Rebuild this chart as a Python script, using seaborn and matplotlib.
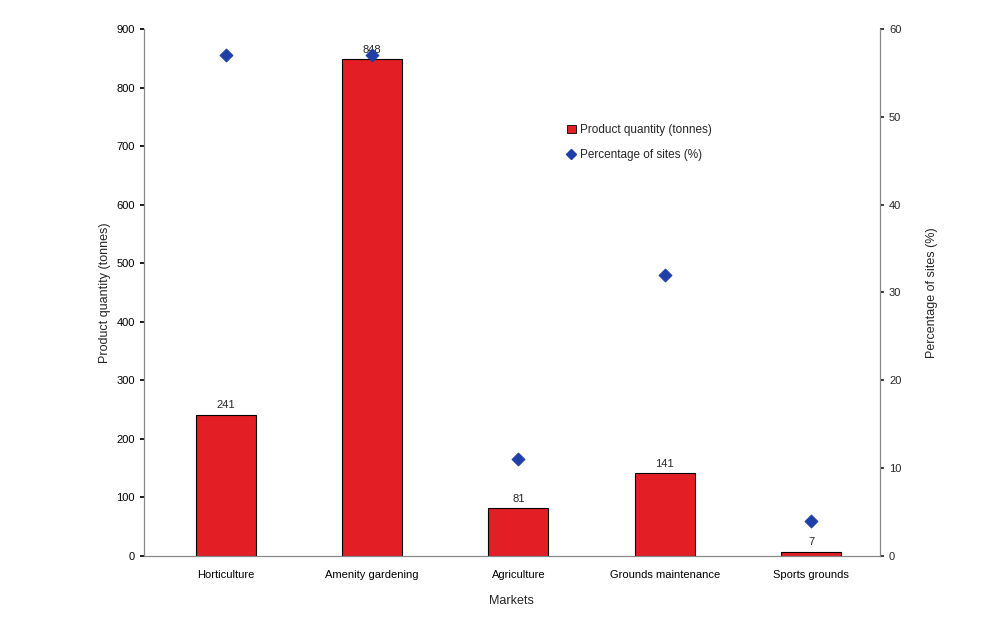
import matplotlib
matplotlib.use("Agg")
import matplotlib.pyplot as plt
import seaborn as sns
import pandas as pd
from matplotlib.lines import Line2D
from matplotlib.patches import Patch

# ── Data ───────────────────────────────────────────────────────────────────
markets   = ["Horticulture", "Amenity gardening", "Agriculture",
             "Grounds maintenance", "Sports grounds"]
quantity  = [241, 848, 81, 141, 7]        # tonnes
pct_sites = [57, 57, 11, 32, 4]           # %

BAR_RED  = "#e31e24"
DOT_BLUE = "#1f3fa8"

sns.set_theme(style="white")
plt.rcParams["font.family"] = ["Liberation Sans", "DejaVu Sans"]

df = pd.DataFrame({"Markets": markets, "qty": quantity, "pct": pct_sites})

fig, ax = plt.subplots(figsize=(9.91, 6.31), dpi=100)
fig.subplots_adjust(left=0.145, right=0.888, top=0.954, bottom=0.119)

sns.barplot(data=df, x="Markets", y="qty", color=BAR_RED, width=0.41,
            edgecolor="black", linewidth=0.8, saturation=1, ax=ax)
for i, v in enumerate(quantity):
    ax.text(i, v + 8, str(v), ha="center", va="bottom", fontsize=8)

ax.set_xlim(-0.56, 4.47)
ax.set_ylim(0, 900)
ax.set_yticks(range(0, 901, 100))
ax.set_ylabel("Product quantity (tonnes)", fontsize=9)
ax.set_xlabel("Markets", fontsize=9, labelpad=11)
ax.tick_params(axis="both", labelsize=8, length=3, direction="out",
               left=True, bottom=False, colors="black")
ax.tick_params(axis="x", pad=7)

ax2 = ax.twinx()
sns.scatterplot(data=df, x="Markets", y="pct", marker="D", s=45,
                color=DOT_BLUE, edgecolor=DOT_BLUE, ax=ax2, zorder=5)
ax2.set_xlim(-0.56, 4.47)
ax2.set_ylim(0, 60)
ax2.set_yticks(range(0, 61, 10))
ax2.set_ylabel("Percentage of sites (%)", fontsize=9, labelpad=18)
ax2.tick_params(axis="y", labelsize=8, length=3, direction="out", right=True)

for a in (ax, ax2):
    a.spines["top"].set_visible(False)
    for s in ("left", "right", "bottom"):
        a.spines[s].set_color("#888888")
        a.spines[s].set_linewidth(0.8)

handles = [Patch(facecolor=BAR_RED, edgecolor="black", linewidth=0.6),
           Line2D([], [], marker="D", color=DOT_BLUE, linestyle="none",
                  markersize=5)]
ax2.legend(handles, ["Product quantity (tonnes)", "Percentage of sites (%)"],
           loc="upper left", bbox_to_anchor=(0.56, 0.84), frameon=False,
           fontsize=8.5, handlelength=0.8, handletextpad=0.3, labelspacing=1.1)

plt.savefig("out.png", dpi=100)
